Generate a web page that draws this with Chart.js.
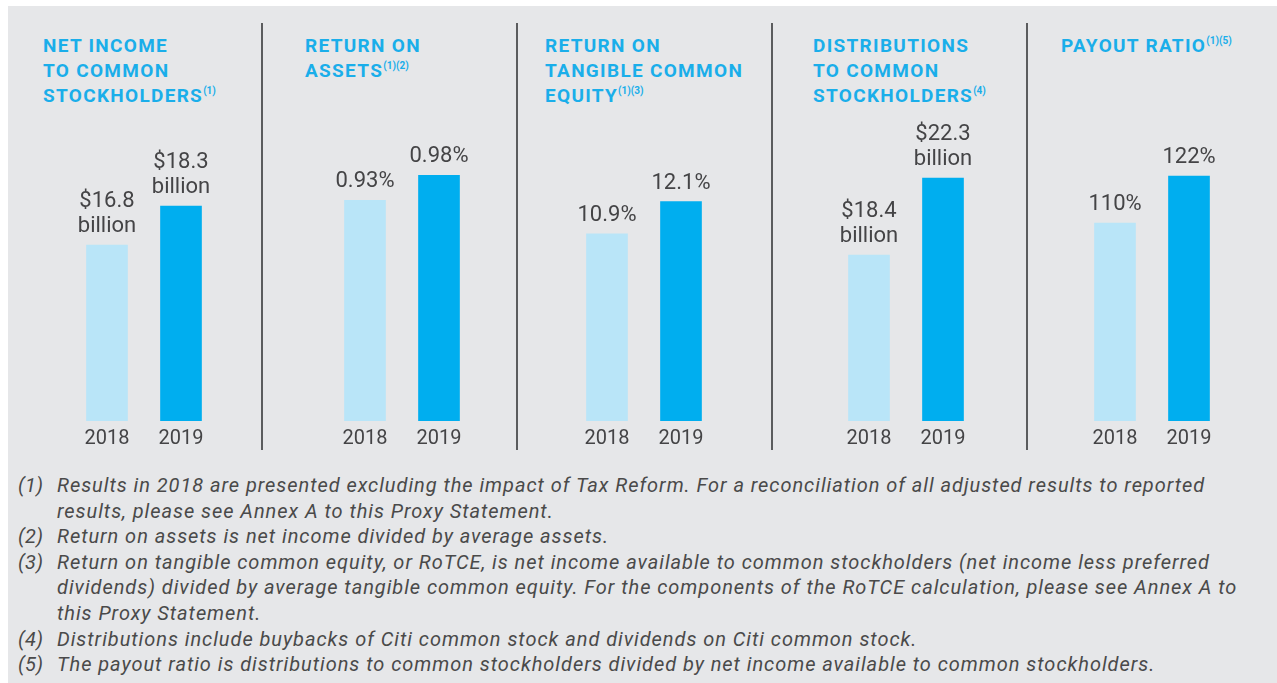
<!DOCTYPE html>
<html>
<head>
<meta charset="utf-8">
<script src="https://cdn.jsdelivr.net/npm/chart.js@4"></script>
<style>
  html, body { margin: 0; padding: 0; background: #fff; }
  body { width: 1277px; height: 683px; position: relative; overflow: hidden; font-family: Roboto, "Liberation Sans", sans-serif; }
  #panel { position: absolute; left: 8px; top: 6px; right: 0; bottom: 0; background: #e6e7e9; }
  .titulo { position: absolute; top: 33px; color: #1aaeea; font-weight: bold; font-size: 19px; line-height: 25px; letter-spacing: 1.3px; white-space: nowrap; }
  .titulo sup { font-size: 10px; letter-spacing: 0; vertical-align: 0; position: relative; top: -8px; }
  .divisor { position: absolute; top: 23px; height: 427px; width: 2px; background: #5b5c5e; }
  .grafico { position: absolute; top: 100px; width: 148px; height: 361px; }
  #notas { position: absolute; left: 18px; top: 473px; color: #4a4a4a; font-style: italic; font-size: 20px; line-height: 25.6px; letter-spacing: 0.95px; white-space: nowrap; }
  .nota { display: flex; }
  .nota .num { width: 39px; flex: none; letter-spacing: 0.3px; }
</style>
</head>
<body>
<div id="panel"></div>
<div id="contenedor"></div>
<div id="notas"></div>

<script>
// Datos de cada panel
const anios = ['2018', '2019'];
const ingresoNeto = [16.8, 18.3];          // miles de millones USD
const retornoActivos = [0.93, 0.98];       // %
const retornoCapitalTangible = [10.9, 12.1]; // %
const distribuciones = [18.4, 22.3];       // miles de millones USD
const ratioPago = [110, 122];              // %

// Títulos (líneas) y notas al pie de cada título
const titulos = [
    ['NET INCOME', 'TO COMMON', 'STOCKHOLDERS'],
    ['RETURN ON', 'ASSETS'],
    ['RETURN ON', 'TANGIBLE COMMON', 'EQUITY'],
    ['DISTRIBUTIONS', 'TO COMMON', 'STOCKHOLDERS'],
    ['PAYOUT RATIO']
];
const llamadas = ['(1)', '(1)(2)', '(1)(3)', '(4)', '(1)(5)'];

// Rango del eje y de cada panel (las barras no parten de cero)
const ejeMin = [10, 0.49, 3.9, 10, 59.5];
const ejeMax = [22.4, 1.13, 15.9, 26.25, 141.4];

const notas = [
    ['(1)', 'Results in 2018 are presented excluding the impact of Tax Reform. For a reconciliation of all adjusted results to reported',
            'results, please see Annex A to this Proxy Statement.'],
    ['(2)', 'Return on assets is net income divided by average assets.'],
    ['(3)', 'Return on tangible common equity, or RoTCE, is net income available to common stockholders (net income less preferred',
            'dividends) divided by average tangible common equity. For the components of the RoTCE calculation, please see Annex A to',
            'this Proxy Statement.'],
    ['(4)', 'Distributions include buybacks of Citi common stock and dividends on Citi common stock.'],
    ['(5)', 'The payout ratio is distributions to common stockholders divided by net income available to common stockholders.']
];

const enBillones = v => ['$' + v.toFixed(1), 'billion'];
const enPorcentaje = d => v => [v.toFixed(d) + '%'];

const paneles = [
    { datos: ingresoNeto, formato: enBillones },
    { datos: retornoActivos, formato: enPorcentaje(2) },
    { datos: retornoCapitalTangible, formato: enPorcentaje(1) },
    { datos: distribuciones, formato: enBillones },
    { datos: ratioPago, formato: enPorcentaje(0) }
];

// Posición horizontal de cada panel
const xTitulo = [43, 305, 545, 813, 1061];
const xGrafico = [70, 328, 570, 832, 1078];
const xDivisor = [261, 516, 771, 1026];

const colorClaro = '#b9e5f8';
const colorFuerte = '#00aeef';
const colorTexto = '#444446';

// Etiquetas de valor encima de cada barra (una instancia por panel)
function crearEtiquetas(formato) {
    return {
        id: 'etiquetasValor',
        afterDatasetsDraw(chart) {
            const ctx = chart.ctx;
            const meta = chart.getDatasetMeta(0);
            ctx.save();
            ctx.font = '22px Roboto, "Liberation Sans", sans-serif';
            ctx.fillStyle = colorTexto;
            ctx.textAlign = 'center';
            ctx.textBaseline = 'alphabetic';
            meta.data.forEach((barra, i) => {
                const lineas = formato(chart.data.datasets[0].data[i]);
                lineas.forEach((linea, j) => {
                    const y = barra.y - 13 - (lineas.length - 1 - j) * 25;
                    ctx.fillText(linea, barra.x, y);
                });
            });
            ctx.restore();
        }
    };
}

const contenedor = document.getElementById('contenedor');

// Títulos
titulos.forEach((lineas, p) => {
    const div = document.createElement('div');
    div.className = 'titulo';
    div.style.left = xTitulo[p] + 'px';
    div.innerHTML = lineas.map((l, i) => i === lineas.length - 1 ? l + '<sup>' + llamadas[p] + '</sup>' : l).join('<br>');
    contenedor.appendChild(div);
});

// Líneas divisorias
xDivisor.forEach(x => {
    const div = document.createElement('div');
    div.className = 'divisor';
    div.style.left = x + 'px';
    contenedor.appendChild(div);
});

// Un gráfico de barras por panel
paneles.forEach((panel, p) => {
    const canvas = document.createElement('canvas');
    canvas.className = 'grafico';
    canvas.style.left = xGrafico[p] + 'px';
    canvas.width = 148;
    canvas.height = 361;
    contenedor.appendChild(canvas);

    new Chart(canvas.getContext('2d'), {
        type: 'bar',
        data: {
            labels: anios,
            datasets: [{
                data: panel.datos,
                backgroundColor: [colorClaro, colorFuerte],
                barThickness: 41,
                borderWidth: 0
            }]
        },
        options: {
            responsive: false,
            animation: false,
            layout: { padding: 0 },
            plugins: {
                legend: { display: false },
                tooltip: { enabled: false }
            },
            scales: {
                x: {
                    grid: { display: false, drawTicks: false },
                    border: { display: false },
                    ticks: {
                        color: colorTexto,
                        padding: 6,
                        font: { family: 'Roboto, "Liberation Sans", sans-serif', size: 20 }
                    },
                    afterFit: escala => { escala.height = 40; }
                },
                y: {
                    display: false,
                    min: ejeMin[p],
                    max: ejeMax[p]
                }
            }
        },
        plugins: [crearEtiquetas(panel.formato)]
    });
});

// Notas al pie
const cajaNotas = document.getElementById('notas');
notas.forEach(([num, ...lineas]) => {
    const fila = document.createElement('div');
    fila.className = 'nota';
    fila.innerHTML = '<span class="num">' + num + '</span><span>' + lineas.join('<br>') + '</span>';
    cajaNotas.appendChild(fila);
});
</script>
</body>
</html>
